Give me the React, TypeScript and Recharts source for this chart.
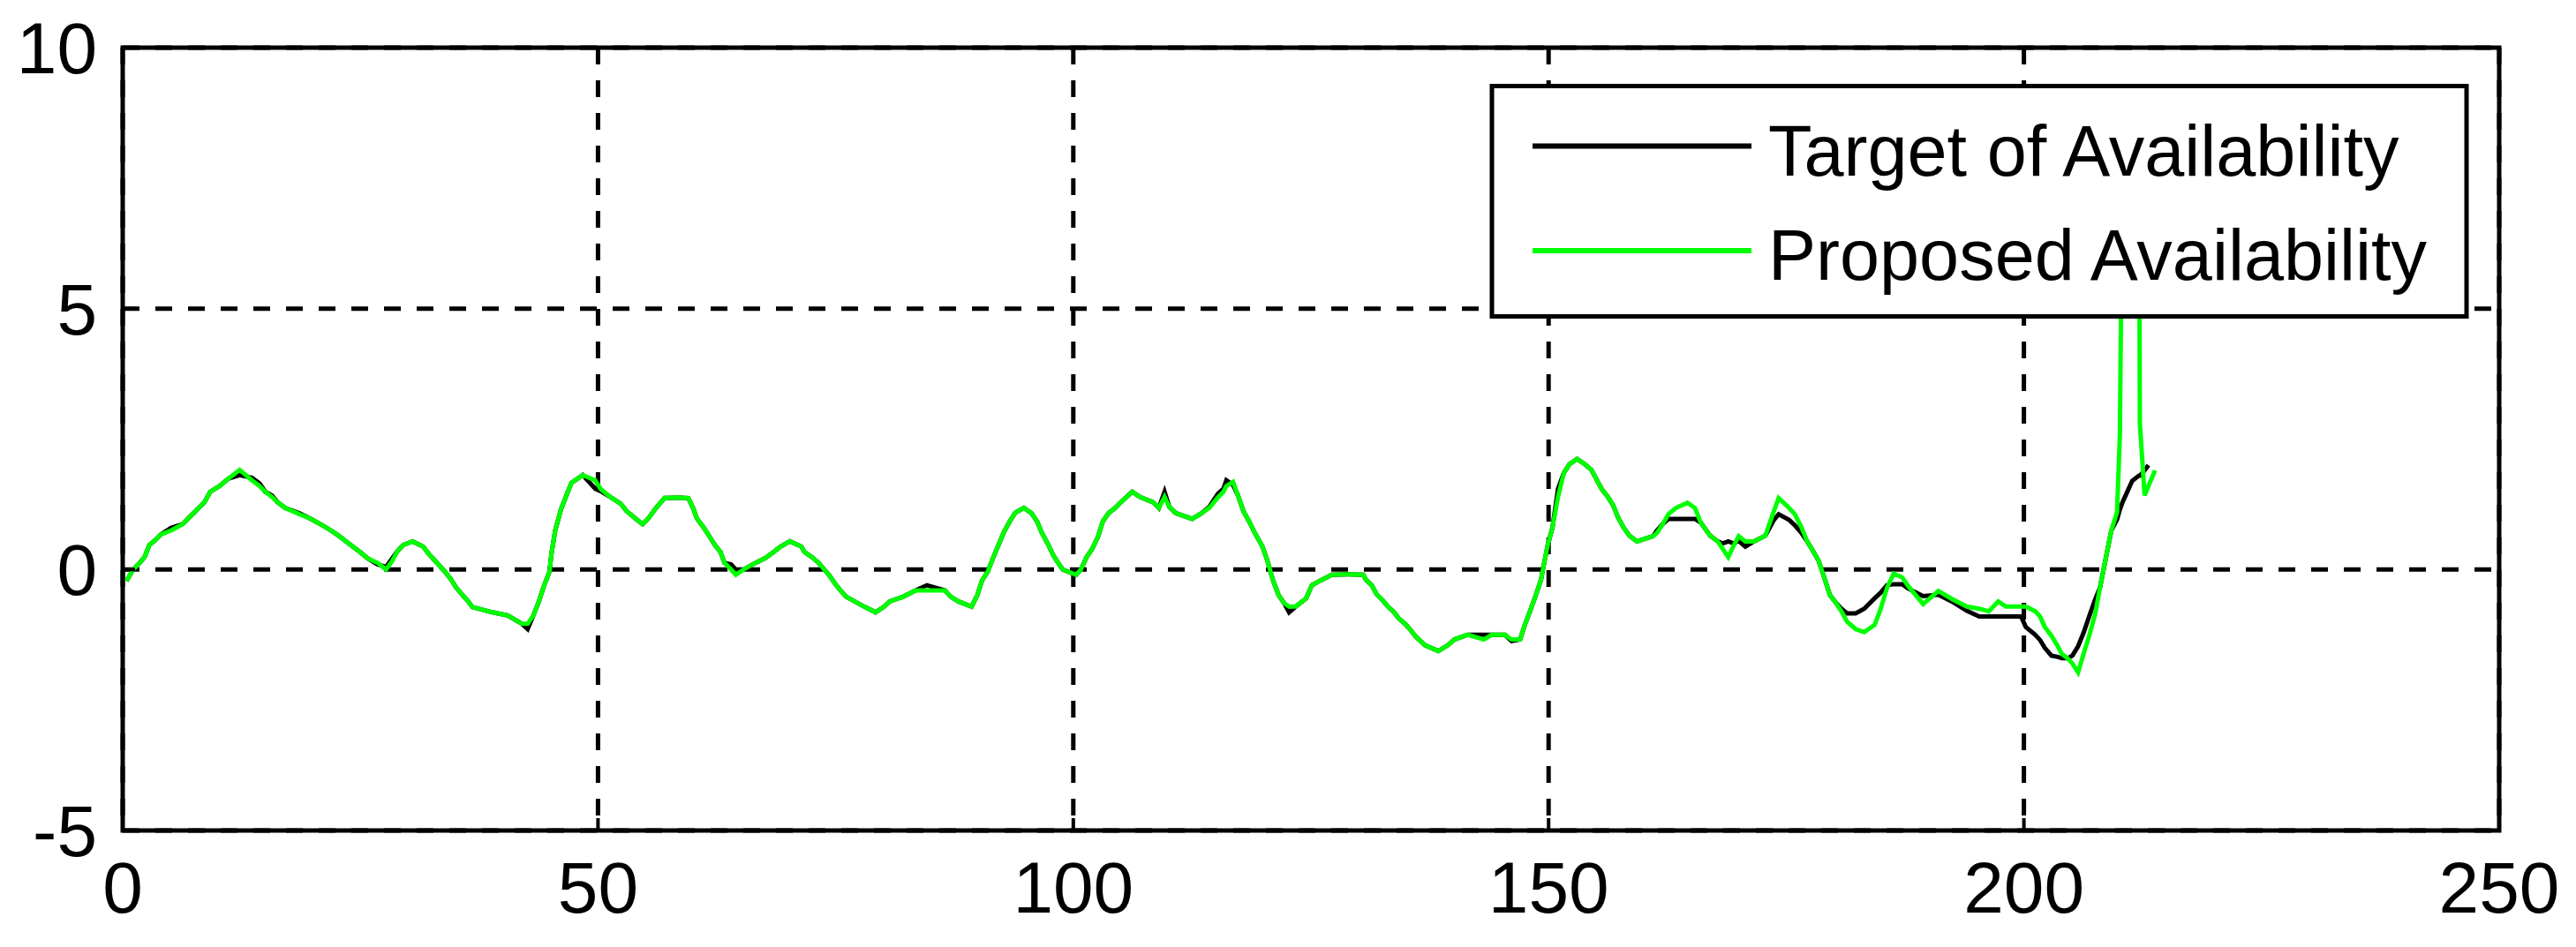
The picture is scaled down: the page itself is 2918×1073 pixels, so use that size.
import React from 'react';
import { LineChart, Line, XAxis, YAxis, CartesianGrid, Legend, ReferenceArea } from 'recharts';

// sample positions (x axis)
const t = [
  0.4, 1.1, 1.8, 2.3, 2.8, 3.4, 4.0, 5.1, 6.3, 6.9, 8.0, 8.6, 9.2, 10.2, 11.1, 12.3, 13.6, 14.4, 15.0, 15.7,
  16.3, 17.1, 18.6, 19.8, 21.0, 21.9, 22.7, 23.5, 24.2, 25.0, 25.8, 26.8, 27.7, 28.3, 28.9, 29.5, 30.5, 31.6, 32.2, 33.1,
  33.9, 34.5, 35.1, 35.8, 36.3, 36.8, 38.9, 40.5, 42.0, 42.6, 43.2, 43.8, 44.3, 44.9, 45.1, 45.5, 46.1, 46.7, 47.2, 48.4,
  49.7, 50.3, 51.3, 52.4, 53.0, 54.0, 54.7, 55.3, 56.1, 57.0, 58.4, 59.5, 60.0, 60.4, 61.1, 61.7, 62.3, 62.9, 63.3, 64.0,
  64.5, 65.3, 66.6, 67.6, 68.5, 69.2, 70.2, 71.4, 71.7, 72.5, 73.2, 73.8, 74.3, 74.9, 75.5, 76.1, 77.0, 78.0, 79.2, 80.1,
  80.7, 82.1, 83.4, 84.6, 86.5, 87.1, 87.9, 89.3, 89.9, 90.4, 91.0, 91.6, 92.2, 92.7, 93.3, 93.9, 94.8, 95.6, 96.2, 96.7,
  97.3, 97.9, 98.5, 98.9, 100.3, 100.8, 101.4, 102.0, 102.6, 103.1, 103.7, 104.4, 105.0, 105.6, 106.2, 107.0, 108.4, 109.0, 109.6, 110.1,
  110.8, 112.5, 113.5, 114.3, 115.2, 115.8, 116.1, 116.8, 117.3, 117.9, 118.5, 119.1, 119.9, 120.4, 121.0, 121.6, 122.2, 122.7, 123.4, 124.5,
  125.1, 126.1, 127.2, 128.9, 130.5, 130.8, 131.4, 131.9, 132.6, 133.1, 133.7, 134.2, 134.9, 135.4, 136.0, 137.0, 138.4, 139.4, 140.1, 141.5,
  143.2, 144.0, 145.4, 146.1, 147.0, 147.5, 148.1, 148.6, 149.2, 149.4, 149.9, 150.4, 151.0, 151.6, 152.2, 153.0, 153.8, 154.5, 155.0, 155.6,
  156.2, 156.8, 157.3, 157.9, 158.5, 159.3, 161.0, 161.4, 162.0, 162.6, 163.4, 164.6, 165.4, 166.0, 167.0, 167.8, 168.3, 168.9, 169.5, 170.0,
  170.7, 171.6, 172.8, 173.1, 173.7, 174.2, 175.3, 175.9, 176.6, 177.2, 177.8, 178.4, 178.9, 179.6, 180.2, 180.8, 181.4, 182.3, 183.2, 184.3,
  184.9, 185.6, 186.3, 187.2, 187.8, 189.4, 191.0, 192.4, 194.0, 195.3, 196.3, 197.3, 198.1, 199.7, 200.2, 201.2, 201.7, 202.2, 202.9, 203.5,
  204.0, 204.6, 205.1, 205.7, 206.3, 206.9, 207.5, 208.0, 208.6, 209.2, 209.8, 210.1, 210.4, 210.9, 211.4, 212.1, 212.2, 212.7, 213.1, 213.8,
];

// Target of Availability (black)
const target = [
  -0.22, 0.0, 0.13, 0.24, 0.47, 0.56, 0.67, 0.8, 0.87, 0.98, 1.18, 1.29, 1.49, 1.6, 1.74, 1.81, 1.76, 1.65, 1.49, 1.42,
  1.29, 1.18, 1.08, 0.97, 0.85, 0.75, 0.65, 0.54, 0.44, 0.33, 0.21, 0.1, 0.05, 0.2, 0.35, 0.47, 0.54, 0.44, 0.3, 0.12,
  -0.04, -0.18, -0.35, -0.5, -0.6, -0.72, -0.82, -0.88, -1.04, -1.14, -0.88, -0.6, -0.32, -0.04, 0.3, 0.75, 1.15, 1.43, 1.66, 1.81,
  1.55, 1.5, 1.39, 1.26, 1.12, 0.97, 0.87, 0.98, 1.18, 1.37, 1.38, 1.37, 1.18, 0.98, 0.81, 0.64, 0.47, 0.33, 0.13, 0.1,
  0.0, 0.0, 0.13, 0.22, 0.34, 0.44, 0.54, 0.44, 0.34, 0.24, 0.13, 0.0, -0.1, -0.26, -0.4, -0.52, -0.61, -0.71, -0.82, -0.71,
  -0.61, -0.52, -0.4, -0.3, -0.4, -0.52, -0.61, -0.71, -0.49, -0.21, -0.04, 0.24, 0.5, 0.72, 0.92, 1.09, 1.18, 1.08, 0.92, 0.7,
  0.5, 0.27, 0.1, 0.0, -0.1, 0.0, 0.24, 0.4, 0.63, 0.92, 1.08, 1.18, 1.29, 1.39, 1.49, 1.39, 1.29, 1.18, 1.49, 1.2,
  1.08, 0.97, 1.08, 1.2, 1.45, 1.55, 1.71, 1.62, 1.43, 1.12, 0.92, 0.7, 0.44, 0.18, -0.2, -0.49, -0.65, -0.82, -0.71, -0.55,
  -0.3, -0.2, -0.1, -0.09, -0.1, -0.2, -0.3, -0.47, -0.6, -0.71, -0.81, -0.93, -1.04, -1.14, -1.28, -1.45, -1.56, -1.45, -1.34, -1.25,
  -1.25, -1.25, -1.25, -1.37, -1.34, -1.06, -0.77, -0.52, -0.2, 0.0, 0.46, 0.8, 1.55, 1.85, 2.02, 2.12, 2.02, 1.91, 1.74, 1.54,
  1.4, 1.23, 1.0, 0.8, 0.65, 0.54, 0.64, 0.75, 0.87, 0.97, 0.97, 0.97, 0.97, 0.9, 0.65, 0.54, 0.5, 0.54, 0.5, 0.55,
  0.44, 0.54, 0.65, 0.75, 0.95, 1.06, 0.95, 0.85, 0.7, 0.54, 0.36, 0.17, -0.1, -0.49, -0.63, -0.75, -0.84, -0.84, -0.75, -0.55,
  -0.45, -0.3, -0.28, -0.28, -0.36, -0.51, -0.48, -0.61, -0.79, -0.9, -0.9, -0.9, -0.9, -0.9, -1.1, -1.25, -1.35, -1.5, -1.65, -1.67,
  -1.7, -1.7, -1.65, -1.47, -1.2, -0.88, -0.57, -0.35, 0.2, 0.75, 0.96, 1.15, 1.3, 1.5, 1.7, 1.8, 1.8, 1.9, 2.0, null,
];

// Proposed Availability (green)
const proposed = [
  -0.22, 0.0, 0.13, 0.24, 0.47, 0.56, 0.67, 0.75, 0.87, 0.98, 1.18, 1.29, 1.49, 1.6, 1.74, 1.91, 1.71, 1.6, 1.49, 1.39,
  1.29, 1.18, 1.06, 0.97, 0.85, 0.75, 0.65, 0.54, 0.44, 0.33, 0.21, 0.13, 0.0, 0.15, 0.35, 0.47, 0.54, 0.44, 0.3, 0.12,
  -0.04, -0.18, -0.35, -0.5, -0.6, -0.72, -0.82, -0.88, -1.04, -1.04, -0.88, -0.6, -0.32, -0.04, 0.3, 0.75, 1.15, 1.43, 1.66, 1.81,
  1.71, 1.54, 1.39, 1.26, 1.12, 0.97, 0.87, 0.98, 1.18, 1.37, 1.38, 1.37, 1.18, 0.98, 0.81, 0.64, 0.47, 0.33, 0.13, 0.0,
  -0.1, 0.0, 0.13, 0.22, 0.34, 0.44, 0.54, 0.44, 0.34, 0.24, 0.13, 0.0, -0.1, -0.26, -0.4, -0.52, -0.61, -0.71, -0.82, -0.71,
  -0.61, -0.52, -0.4, -0.4, -0.4, -0.52, -0.61, -0.71, -0.49, -0.21, -0.04, 0.24, 0.5, 0.72, 0.92, 1.09, 1.18, 1.08, 0.92, 0.7,
  0.5, 0.27, 0.1, 0.0, -0.1, 0.0, 0.24, 0.4, 0.63, 0.92, 1.08, 1.18, 1.29, 1.39, 1.49, 1.39, 1.29, 1.18, 1.39, 1.2,
  1.08, 0.97, 1.08, 1.18, 1.38, 1.49, 1.6, 1.68, 1.43, 1.12, 0.92, 0.7, 0.44, 0.18, -0.2, -0.49, -0.65, -0.71, -0.71, -0.55,
  -0.3, -0.2, -0.1, -0.09, -0.1, -0.2, -0.3, -0.47, -0.6, -0.71, -0.81, -0.93, -1.04, -1.14, -1.28, -1.45, -1.56, -1.45, -1.34, -1.25,
  -1.34, -1.25, -1.25, -1.34, -1.34, -1.06, -0.77, -0.52, -0.2, 0.0, 0.46, 0.8, 1.4, 1.85, 2.02, 2.12, 2.02, 1.91, 1.74, 1.54,
  1.4, 1.23, 1.0, 0.8, 0.65, 0.54, 0.64, 0.7, 0.87, 1.06, 1.18, 1.28, 1.18, 0.9, 0.65, 0.54, 0.4, 0.24, 0.47, 0.64,
  0.54, 0.54, 0.65, 0.81, 1.12, 1.37, 1.18, 1.06, 0.81, 0.54, 0.36, 0.17, -0.1, -0.49, -0.63, -0.8, -1.0, -1.14, -1.2, -1.06,
  -0.77, -0.35, -0.08, -0.15, -0.31, -0.66, -0.41, -0.56, -0.71, -0.75, -0.8, -0.61, -0.71, -0.71, -0.71, -0.8, -0.9, -1.1, -1.27, -1.45,
  -1.62, -1.7, -1.8, -1.97, -1.6, -1.25, -0.85, -0.35, 0.2, 0.75, 1.1, 2.6, 8.6, 8.6, 8.6, 8.6, 2.8, 1.42, 1.6, 1.9,
];

const seriesNames = ['Target of Availability', 'Proposed Availability'];
const xTicks = [0, 50, 100, 150, 200, 250];
const yTicks = [-5, 0, 5, 10];

const rows = t.map((x, i) => ({ t: x, target: target[i], proposed: proposed[i] }));

const FONT = '"Liberation Sans", Arial, sans-serif';
const tickStyle = { fill: '#000', fontSize: 82, fontFamily: FONT };
const tickLn = { stroke: '#000', strokeWidth: 4 };

const renderLegend = (props: any) => {
  const items = [...(props.payload || [])].sort(
    (a: any, b: any) => seriesNames.indexOf(a.value) - seriesNames.indexOf(b.value)
  );
  return (
    <svg width={1110} height={266} style={{ display: 'block' }}>
      <rect x={3} y={2.5} width={1104} height={261} fill="#fff" stroke="#000" strokeWidth={5} />
      {items.map((it: any, i: number) => (
        <g key={it.value}>
          <line x1={49} x2={297} y1={70.5 + i * 118.5} y2={70.5 + i * 118.5} stroke={it.color} strokeWidth={6} />
          <text x={316} y={104 + i * 118} fontSize={81} fontFamily={FONT} fill="#000">{it.value}</text>
        </g>
      ))}
    </svg>
  );
};

export default function App() {
  return (
    <div style={{ position: 'absolute', left: 0, top: 0, background: '#fff' }}>
      <LineChart width={2918} height={1073} data={rows} margin={{ top: 54, right: 87, bottom: 72, left: 39 }}>
        <CartesianGrid stroke="#000" strokeWidth={5} strokeDasharray="19 18" />
        <XAxis dataKey="t" type="number" domain={[0, 250]} ticks={xTicks} interval={0} allowDataOverflow
          height={60} tickSize={-14} tickMargin={49} axisLine={false} tickLine={tickLn} tick={tickStyle} />
        <XAxis xAxisId="top" orientation="top" type="number" domain={[0, 250]} ticks={xTicks} interval={0} allowDataOverflow
          height={0} tickSize={-14} axisLine={false} tickLine={tickLn} tick={false} />
        <YAxis type="number" domain={[-5, 10]} ticks={yTicks} interval={0} allowDataOverflow
          width={100} tickSize={-14} tickMargin={43} axisLine={false} tickLine={tickLn} tick={tickStyle} />
        <YAxis yAxisId="right" orientation="right" type="number" domain={[-5, 10]} ticks={yTicks} interval={0} allowDataOverflow
          width={0} tickSize={-14} axisLine={false} tickLine={tickLn} tick={false} />
        <Line type="linear" dataKey="target" name={seriesNames[0]} stroke="#000000" strokeWidth={5}
          dot={false} activeDot={false} isAnimationActive={false} />
        <Line type="linear" dataKey="proposed" name={seriesNames[1]} stroke="#00ff00" strokeWidth={5}
          dot={false} activeDot={false} isAnimationActive={false} />
        {/* plot box */}
        <ReferenceArea x1={0} x2={250} y1={-5} y2={10} fill="none" fillOpacity={0} stroke="#000" strokeWidth={5}
          ifOverflow="visible" />
        <Legend layout="vertical" align="center" verticalAlign="middle" content={renderLegend}
          wrapperStyle={{ left: 1687, top: 95, width: 1110, height: 266 }} />
      </LineChart>
    </div>
  );
}
